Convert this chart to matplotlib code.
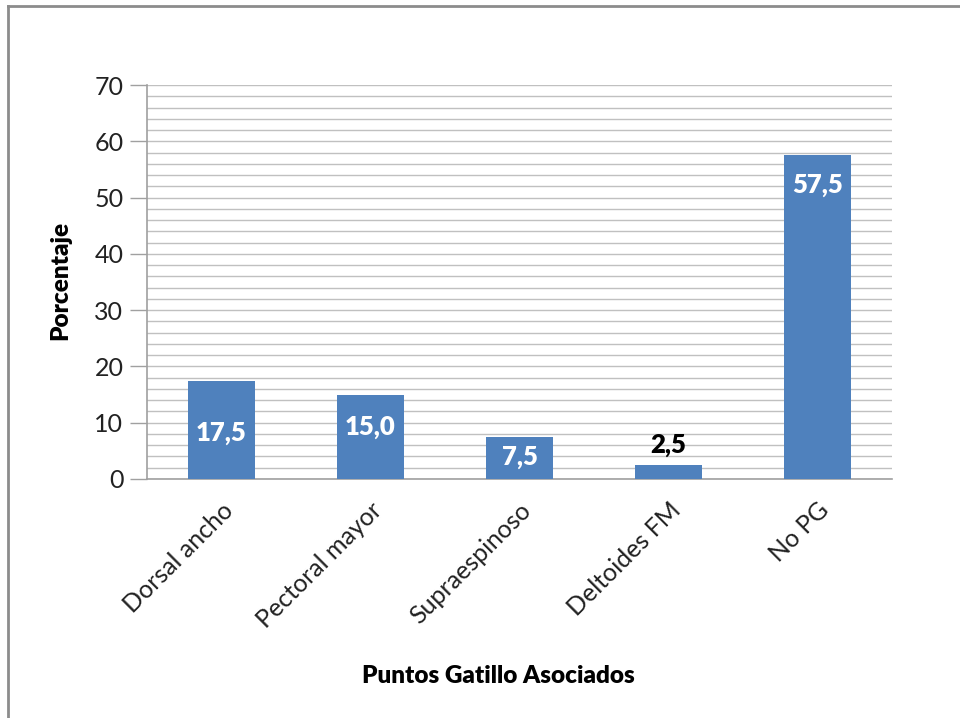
import matplotlib
matplotlib.use("Agg")
import matplotlib.pyplot as plt
from matplotlib.lines import Line2D
from matplotlib.ticker import MultipleLocator

categories = ["Dorsal ancho", "Pectoral mayor", "Supraespinoso", "Deltoides FM", "No PG"]
values = [17.5, 15.0, 7.5, 2.5, 57.5]
value_labels = ["17,5", "15,0", "7,5", "2,5", "57,5"]
yticks = [0, 10, 20, 30, 40, 50, 60, 70]

# label placement (layout)
label_y = [8.2, 9.2, 3.9, 6.0, 52.2]
label_color = ["white", "white", "white", "black", "white"]

plt.rcParams['font.family'] = ['Lato', 'DejaVu Sans']

fig = plt.figure(figsize=(9.6, 7.18), dpi=100)
ax = fig.add_axes([147/960, 1-479/718, (892-147)/960, (479-85)/718])

x = list(range(len(categories)))
ax.bar(x, values, width=0.45, color="#4f81bd", zorder=3)
ax.set_xlim(-0.5, len(categories)-0.5)
ax.set_ylim(0, 70)
ax.set_yticks(yticks)
ax.set_yticklabels([str(t) for t in yticks], fontsize=18, color="#222222")
ax.yaxis.set_minor_locator(MultipleLocator(2))
ax.grid(axis='y', which='both', color="#c0c0c0", linewidth=1, zorder=0)
ax.tick_params(axis='y', which='major', length=12, width=1, color="#a0a0a0", pad=5)
ax.tick_params(axis='y', which='minor', length=0)
ax.set_xticks(x)
ax.set_xticklabels(categories, rotation=45, ha='right', rotation_mode='anchor', fontsize=18, color="#222222")
ax.tick_params(axis='x', length=0, pad=14)
for s in ['top', 'right']:
    ax.spines[s].set_visible(False)
for s in ['left', 'bottom']:
    ax.spines[s].set_color("#a0a0a0")
    ax.spines[s].set_linewidth(1.2)

for xi, ly, lab, c in zip(x, label_y, value_labels, label_color):
    ax.text(xi, ly, lab, ha='center', va='center', fontsize=18.5, fontweight='heavy', color=c, zorder=4)

fig.text(60/960, 1-280/718, "Porcentaje", rotation=90, ha='center', va='center', fontsize=17.5, fontweight='heavy')
fig.text(498/960, 1-676/718, "Puntos Gatillo Asociados", ha='center', va='center', fontsize=17.5, fontweight='heavy')

fig.add_artist(Line2D([8/960, 8/960], [0, 1-6/718], transform=fig.transFigure, color="#8c8c8c", linewidth=2))
fig.add_artist(Line2D([8/960, 1], [1-6/718, 1-6/718], transform=fig.transFigure, color="#8c8c8c", linewidth=2))

fig.savefig("out.png", dpi=100)
